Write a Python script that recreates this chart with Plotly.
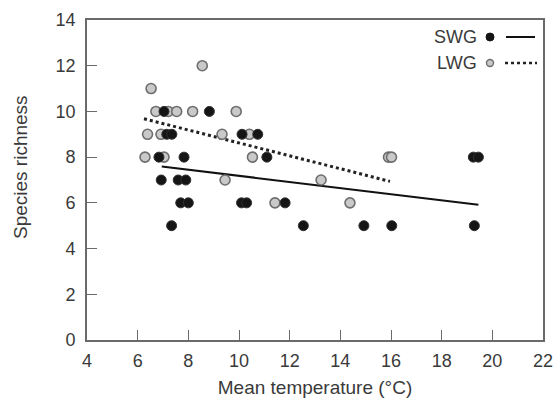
import plotly.graph_objects as go

# SWG (black) observations
swg_x = [7.04, 8.83,
         7.15, 7.35, 10.12, 10.74,
         6.84, 7.83, 11.10, 19.25, 19.45,
         6.93, 7.60, 7.90,
         7.70, 8.00, 10.10, 10.30, 11.82,
         7.34, 12.54, 14.93, 16.03, 19.29]
swg_y = [10, 10,
         9, 9, 9, 9,
         8, 8, 8, 8, 8,
         7, 7, 7,
         6, 6, 6, 6, 6,
         5, 5, 5, 5, 5]

# LWG (grey) observations
lwg_x = [8.55,
         6.53,
         6.72, 7.21, 7.54, 8.17, 9.89,
         6.39, 6.92, 9.33, 10.41,
         6.29, 7.04, 10.53, 15.90, 16.02,
         9.45, 13.24,
         11.42, 14.38]
lwg_y = [12,
         11,
         10, 10, 10, 10, 10,
         9, 9, 9, 9,
         8, 8, 8, 8, 8,
         7, 7,
         6, 6]

# Fitted trend lines (end points)
swg_fit_x = [6.95, 19.45]
swg_fit_y = [7.59, 5.92]
lwg_fit_x = [6.25, 15.96]
lwg_fit_y = [9.68, 6.94]

x_ticks = [4, 6, 8, 10, 12, 14, 16, 18, 20, 22]
y_ticks = [0, 2, 4, 6, 8, 10, 12, 14]

FONT = "Liberation Sans, Arial"
TXT = "#3a3a3a"

W, H = 555, 404
L, R, T, B = 87, 543, 20, 340  # plot-area pixel bounds in the window

fig = go.Figure()
fig.add_trace(go.Scatter(x=swg_fit_x, y=swg_fit_y, mode="lines",
                         line=dict(color="#111111", width=2), showlegend=False))
fig.add_trace(go.Scatter(x=lwg_fit_x, y=lwg_fit_y, mode="lines",
                         line=dict(color="#222222", width=3, dash="dot"), showlegend=False))
fig.add_trace(go.Scatter(x=lwg_x, y=lwg_y, mode="markers", name="LWG",
                         marker=dict(size=10, color="#c9c9c9",
                                     line=dict(color="#6e6e6e", width=1.6)),
                         showlegend=False))
fig.add_trace(go.Scatter(x=swg_x, y=swg_y, mode="markers", name="SWG",
                         marker=dict(size=10, color="#151515",
                                     line=dict(color="#303030", width=1)),
                         showlegend=False))

axis_common = dict(showgrid=False, zeroline=False, showline=True, linecolor="#6a6a6a",
                   linewidth=1.6, mirror=True, ticks="inside", ticklen=10,
                   tickwidth=1.4, tickcolor="#6a6a6a", automargin=False,
                   tickfont=dict(family=FONT, size=18, color=TXT))

fig.update_layout(
    width=W, height=H,
    margin=dict(l=L, r=W - R, t=T, b=H - B),
    paper_bgcolor="white", plot_bgcolor="white",
    xaxis=dict(range=[4, 22], tickvals=x_ticks, ticktext=[str(v) for v in x_ticks],
               ticklabelstandoff=4,
               title=dict(text="Mean temperature (°C)", standoff=10,
                          font=dict(family=FONT, size=19, color=TXT)),
               **axis_common),
    yaxis=dict(range=[0, 14], tickvals=y_ticks, ticktext=[str(v) for v in y_ticks],
               ticklabelstandoff=6,
               **axis_common),
)

def px_x(p):
    return (p - L) / (R - L)

def px_y(p):
    return 1 - (p - T) / (B - T)

# y-axis title placed as in reference (slightly above centre)
fig.add_annotation(x=px_x(20), y=px_y(167), xref="paper", yref="paper",
                   text="Species richness", showarrow=False, textangle=-90,
                   xanchor="center", yanchor="middle",
                   font=dict(family=FONT, size=19, color=TXT))

# Custom legend (text, marker, line)
for label, yy in [("SWG", 37), ("LWG", 63)]:
    fig.add_annotation(x=px_x(479), y=px_y(yy), xref="paper", yref="paper",
                       text=label, showarrow=False, xanchor="right", yanchor="middle",
                       font=dict(family=FONT, size=18, color=TXT))

fig.add_shape(type="circle", xref="paper", yref="paper", xsizemode="pixel", ysizemode="pixel",
              xanchor=px_x(490), yanchor=px_y(37), x0=-4, x1=4, y0=-4, y1=4,
              fillcolor="#151515", line=dict(color="#151515", width=1))
fig.add_shape(type="circle", xref="paper", yref="paper", xsizemode="pixel", ysizemode="pixel",
              xanchor=px_x(490), yanchor=px_y(63), x0=-3.5, x1=3.5, y0=-3.5, y1=3.5,
              fillcolor="#c9c9c9", line=dict(color="#6e6e6e", width=1.4))
fig.add_shape(type="line", xref="paper", yref="paper",
              x0=px_x(506), x1=px_x(535), y0=px_y(37), y1=px_y(37),
              line=dict(color="#111111", width=2))
fig.add_shape(type="line", xref="paper", yref="paper",
              x0=px_x(505), x1=px_x(537), y0=px_y(63), y1=px_y(63),
              line=dict(color="#222222", width=2.5, dash="dot"))

fig.write_html("out.html",
               config={"displayModeBar": False},
               post_script="document.body.style.margin='0';document.body.style.overflow='hidden';")
